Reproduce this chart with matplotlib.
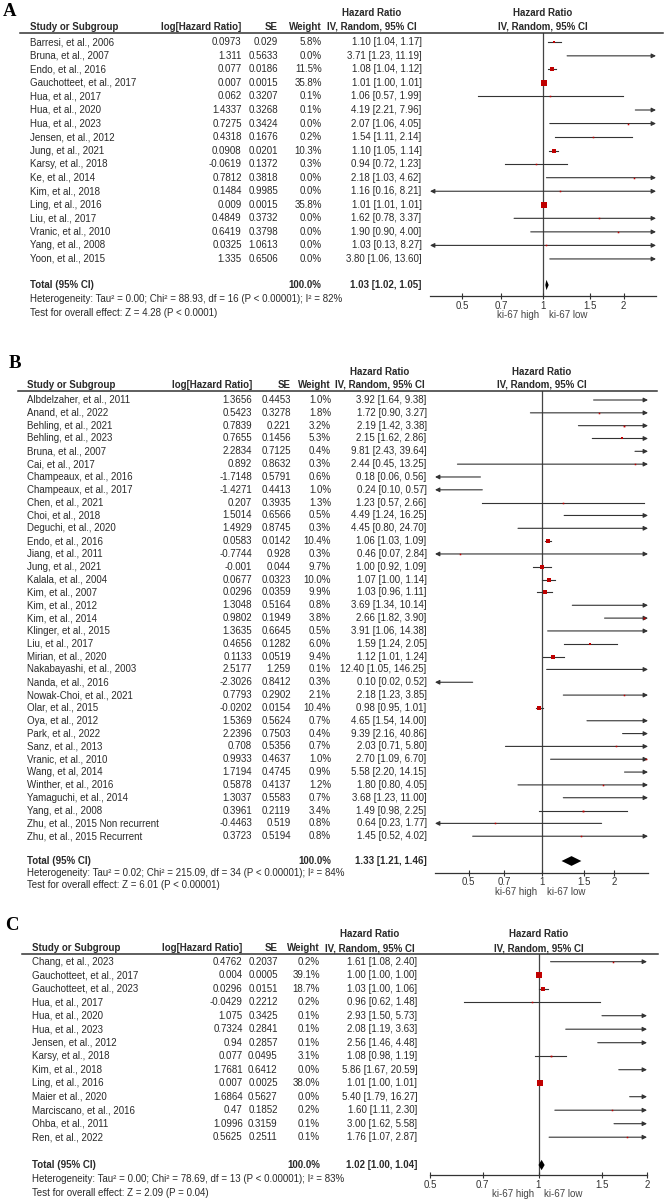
import matplotlib
matplotlib.use('Agg')
import matplotlib.pyplot as plt
import matplotlib.transforms as mtransforms
from matplotlib.ticker import NullLocator
import numpy as np

plt.rcParams['font.family'] = ['Liberation Sans', 'DejaVu Sans']

W, H = 667, 1203
FS = 7.0
TXT = '#2a2a2a'
RED = '#c00000'

# ---------------- panel A data ----------------
a_study = ['Barresi, et al., 2006', 'Bruna, et al., 2007', 'Endo, et al., 2016',
           'Gauchotteet, et al., 2017', 'Hua, et al., 2017', 'Hua, et al., 2020',
           'Hua, et al., 2023', 'Jensen, et al., 2012', 'Jung, et al., 2021',
           'Karsy, et al., 2018', 'Ke, et al., 2014', 'Kim, et al., 2018',
           'Ling, et al., 2016', 'Liu, et al., 2017', 'Vranic, et al., 2010',
           'Yang, et al., 2008', 'Yoon, et al., 2015']
a_loghr = [0.0973, 1.311, 0.077, 0.007, 0.062, 1.4337, 0.7275, 0.4318, 0.0908,
           -0.0619, 0.7812, 0.1484, 0.009, 0.4849, 0.6419, 0.0325, 1.335]
a_se = [0.029, 0.5633, 0.0186, 0.0015, 0.3207, 0.3268, 0.3424, 0.1676, 0.0201,
        0.1372, 0.3818, 0.9985, 0.0015, 0.3732, 0.3798, 1.0613, 0.6506]
a_weight = [5.8, 0.0, 11.5, 35.8, 0.1, 0.1, 0.0, 0.2, 10.3, 0.3, 0.0, 0.0, 35.8,
            0.0, 0.0, 0.0, 0.0]
a_hr = [1.10, 3.71, 1.08, 1.01, 1.06, 4.19, 2.07, 1.54, 1.10, 0.94, 2.18, 1.16,
        1.01, 1.62, 1.90, 1.03, 3.80]
a_lo = [1.04, 1.23, 1.04, 1.00, 0.57, 2.21, 1.06, 1.11, 1.05, 0.72, 1.03, 0.16,
        1.01, 0.78, 0.90, 0.13, 1.06]
a_hi = [1.17, 11.19, 1.12, 1.01, 1.99, 7.96, 4.05, 2.14, 1.14, 1.23, 4.62, 8.21,
        1.01, 3.37, 4.00, 8.27, 13.60]
a_total = [1.03, 1.02, 1.05]
a_het = 'Heterogeneity: Tau² = 0.00; Chi² = 88.93, df = 16 (P < 0.00001); I² = 82%'
a_test = 'Test for overall effect: Z = 4.28 (P < 0.0001)'

# ---------------- panel B data ----------------
b_study = ['Albdelzaher, et al., 2011', 'Anand, et al., 2022', 'Behling, et al., 2021',
           'Behling, et al., 2023', 'Bruna, et al., 2007', 'Cai, et al., 2017',
           'Champeaux, et al., 2016', 'Champeaux, et al., 2017', 'Chen, et al., 2021',
           'Choi, et al., 2018', 'Deguchi, et al., 2020', 'Endo, et al., 2016',
           'Jiang, et al., 2011', 'Jung, et al., 2021', 'Kalala, et al., 2004',
           'Kim, et al., 2007', 'Kim, et al., 2012', 'Kim, et al., 2014',
           'Klinger, et al., 2015', 'Liu, et al., 2017', 'Mirian, et al., 2020',
           'Nakabayashi, et al., 2003', 'Nanda, et al., 2016', 'Nowak-Choi, et al., 2021',
           'Olar, et al., 2015', 'Oya, et al., 2012', 'Park, et al., 2022',
           'Sanz, et al., 2013', 'Vranic, et al., 2010', 'Wang, et al, 2014',
           'Winther, et al., 2016', 'Yamaguchi, et al., 2014', 'Yang, et al., 2008',
           'Zhu, et al., 2015 Non recurrent', 'Zhu, et al., 2015 Recurrent']
b_loghr = [1.3656, 0.5423, 0.7839, 0.7655, 2.2834, 0.892, -1.7148, -1.4271, 0.207,
           1.5014, 1.4929, 0.0583, -0.7744, -0.001, 0.0677, 0.0296, 1.3048, 0.9802,
           1.3635, 0.4656, 0.1133, 2.5177, -2.3026, 0.7793, -0.0202, 1.5369, 2.2396,
           0.708, 0.9933, 1.7194, 0.5878, 1.3037, 0.3961, -0.4463, 0.3723]
b_se = [0.4453, 0.3278, 0.221, 0.1456, 0.7125, 0.8632, 0.5791, 0.4413, 0.3935,
        0.6566, 0.8745, 0.0142, 0.928, 0.044, 0.0323, 0.0359, 0.5164, 0.1949,
        0.6645, 0.1282, 0.0519, 1.259, 0.8412, 0.2902, 0.0154, 0.5624, 0.7503,
        0.5356, 0.4637, 0.4745, 0.4137, 0.5583, 0.2119, 0.519, 0.5194]
b_weight = [1.0, 1.8, 3.2, 5.3, 0.4, 0.3, 0.6, 1.0, 1.3, 0.5, 0.3, 10.4, 0.3, 9.7,
            10.0, 9.9, 0.8, 3.8, 0.5, 6.0, 9.4, 0.1, 0.3, 2.1, 10.4, 0.7, 0.4, 0.7,
            1.0, 0.9, 1.2, 0.7, 3.4, 0.8, 0.8]
b_hr = [3.92, 1.72, 2.19, 2.15, 9.81, 2.44, 0.18, 0.24, 1.23, 4.49, 4.45, 1.06, 0.46,
        1.00, 1.07, 1.03, 3.69, 2.66, 3.91, 1.59, 1.12, 12.40, 0.10, 2.18, 0.98, 4.65,
        9.39, 2.03, 2.70, 5.58, 1.80, 3.68, 1.49, 0.64, 1.45]
b_lo = [1.64, 0.90, 1.42, 1.62, 2.43, 0.45, 0.06, 0.10, 0.57, 1.24, 0.80, 1.03, 0.07,
        0.92, 1.00, 0.96, 1.34, 1.82, 1.06, 1.24, 1.01, 1.05, 0.02, 1.23, 0.95, 1.54,
        2.16, 0.71, 1.09, 2.20, 0.80, 1.23, 0.98, 0.23, 0.52]
b_hi = [9.38, 3.27, 3.38, 2.86, 39.64, 13.25, 0.56, 0.57, 2.66, 16.25, 24.70, 1.09,
        2.84, 1.09, 1.14, 1.11, 10.14, 3.90, 14.38, 2.05, 1.24, 146.25, 0.52, 3.85,
        1.01, 14.00, 40.86, 5.80, 6.70, 14.15, 4.05, 11.00, 2.25, 1.77, 4.02]
b_total = [1.33, 1.21, 1.46]
b_het = 'Heterogeneity: Tau² = 0.02; Chi² = 215.09, df = 34 (P < 0.00001); I² = 84%'
b_test = 'Test for overall effect: Z = 6.01 (P < 0.00001)'

# ---------------- panel C data ----------------
c_study = ['Chang, et al., 2023', 'Gauchotteet, et al., 2017', 'Gauchotteet, et al., 2023',
           'Hua, et al., 2017', 'Hua, et al., 2020', 'Hua, et al., 2023',
           'Jensen, et al., 2012', 'Karsy, et al., 2018', 'Kim, et al., 2018',
           'Ling, et al., 2016', 'Maier et al., 2020', 'Marciscano, et al., 2016',
           'Ohba, et al., 2011', 'Ren, et al., 2022']
c_loghr = [0.4762, 0.004, 0.0296, -0.0429, 1.075, 0.7324, 0.94, 0.077, 1.7681, 0.007,
           1.6864, 0.47, 1.0996, 0.5625]
c_se = [0.2037, 0.0005, 0.0151, 0.2212, 0.3425, 0.2841, 0.2857, 0.0495, 0.6412,
        0.0025, 0.5627, 0.1852, 0.3159, 0.2511]
c_weight = [0.2, 39.1, 18.7, 0.2, 0.1, 0.1, 0.1, 3.1, 0.0, 38.0, 0.0, 0.2, 0.1, 0.1]
c_hr = [1.61, 1.00, 1.03, 0.96, 2.93, 2.08, 2.56, 1.08, 5.86, 1.01, 5.40, 1.60, 3.00, 1.76]
c_lo = [1.08, 1.00, 1.00, 0.62, 1.50, 1.19, 1.46, 0.98, 1.67, 1.00, 1.79, 1.11, 1.62, 1.07]
c_hi = [2.40, 1.00, 1.06, 1.48, 5.73, 3.63, 4.48, 1.19, 20.59, 1.01, 16.27, 2.30, 5.58, 2.87]
c_total = [1.02, 1.00, 1.04]
c_het = 'Heterogeneity: Tau² = 0.00; Chi² = 78.69, df = 13 (P < 0.00001); I² = 83%'
c_test = 'Test for overall effect: Z = 2.09 (P = 0.04)'

tick_vals = [0.5, 0.7, 1, 1.5, 2]
tick_labels = ['0.5', '0.7', '1', '1.5', '2']

# pixel layout of each panel
geo_a = dict(letter='A', lx=10, ly=11, hdr1=13.3, hdr2=26.5, line=33, l0=20, l1=663,
             row0=42.3, dy=13.54, total=285, het=299.3, test=312.7, axis=296,
             x0=430, x1=656, xlim=(1 / 2.64, 2.64),
             study_x=30, log_r=241.7, se_r=278, w_r=321.7, ci_r=421.5, ci_c=372)
geo_b = dict(letter='B', lx=14.5, ly=363.3, hdr1=372.3, hdr2=385, line=391, l0=18, l1=657,
             row0=400, dy=12.83, total=861, het=873.3, test=885, axis=872.7,
             x0=435, x1=648, xlim=(1 / 2.75, 2.75),
             study_x=26.7, log_r=252, se_r=291, w_r=331, ci_r=426.7, ci_c=380)
geo_c = dict(letter='C', lx=11.7, ly=926, hdr1=934, hdr2=948.3, line=954, l0=22, l1=658,
             row0=961.7, dy=13.5, total=1165, het=1179.3, test=1192.7, axis=1175,
             x0=430, x1=647, xlim=(0.5, 2.0),
             study_x=32.3, log_r=242.7, se_r=277.7, w_r=320, ci_r=417.3, ci_c=369.5)


def px(x):
    return x / W


def draw_panel(fig, g, study, loghr, se, weight, hr, lo, hi, total, het, test):
    ax = fig.add_axes([px(g['x0']), 1 - g['axis'] / H,
                       px(g['x1'] - g['x0']), (g['axis'] - g['line']) / H])
    ax.set_xscale('log')
    xmin, xmax = g['xlim']
    ax.set_xlim(xmin, xmax)

    def row(y):
        return (y - g['row0']) / g['dy']

    ax.set_ylim(row(g['axis']), row(g['line']))
    fig_x = mtransforms.blended_transform_factory(fig.transFigure, ax.transData)
    ax_x = mtransforms.blended_transform_factory(ax.transAxes, ax.transData)

    # header
    ax.plot([px(g['l0']), px(g['l1'])], [row(g['line'])] * 2, transform=fig_x,
            clip_on=False, color='#333333', lw=1.1)
    y1, y2 = row(g['hdr1']), row(g['hdr2'])
    hb = dict(fontsize=FS, fontweight='bold', color=TXT, va='center')
    ax.text(px(g['study_x']), y2, 'Study or Subgroup', transform=fig_x, ha='left', **hb)
    ax.text(px(g['log_r']), y2, 'log[Hazard Ratio]', transform=fig_x, ha='right', **hb)
    ax.text(px(g['se_r']), y2, 'SE', transform=fig_x, ha='right', **hb)
    ax.text(px(g['w_r']), y2, 'Weight', transform=fig_x, ha='right', **hb)
    ax.text(px(g['ci_c']), y1, 'Hazard Ratio', transform=fig_x, ha='center', **hb)
    ax.text(px(g['ci_c']), y2, 'IV, Random, 95% CI', transform=fig_x, ha='center', **hb)
    ax.text(0.5, y1, 'Hazard Ratio', transform=ax_x, ha='center', **hb)
    ax.text(0.5, y2, 'IV, Random, 95% CI', transform=ax_x, ha='center', **hb)

    # study rows
    tb = dict(fontsize=FS, color=TXT, va='center', transform=fig_x)
    for i in range(len(study)):
        ax.text(px(g['study_x']), i, study[i], ha='left', **tb)
        ax.text(px(g['log_r']), i, str(loghr[i]), ha='right', **tb)
        ax.text(px(g['se_r']), i, str(se[i]), ha='right', **tb)
        ax.text(px(g['w_r']), i, f'{weight[i]:.1f}%', ha='right', **tb)
        ax.text(px(g['ci_r']), i, f'{hr[i]:.2f} [{lo[i]:.2f}, {hi[i]:.2f}]', ha='right', **tb)

        left_out, right_out = lo[i] < xmin, hi[i] > xmax
        a, b = max(lo[i], xmin), min(hi[i], xmax)
        if left_out or right_out:
            style = {(True, False): '<|-', (False, True): '-|>', (True, True): '<|-|>'}[(left_out, right_out)]
            ax.annotate('', xy=(b, i), xytext=(a, i),
                        arrowprops=dict(arrowstyle=style, color='#333333', lw=0.8,
                                        shrinkA=0, shrinkB=0, mutation_scale=6.5),
                        annotation_clip=False)
        else:
            ax.plot([a, b], [i, i], color='#333333', lw=0.8)
        ax.plot(hr[i], i, 's', ms=max(0.72 * np.sqrt(weight[i]), 1.1), color=RED, mew=0, zorder=4)

    # total
    yt = row(g['total'])
    ax.text(px(g['study_x']), yt, 'Total (95% CI)', ha='left', fontweight='bold', **tb)
    ax.text(px(g['w_r']), yt, '100.0%', ha='right', fontweight='bold', **tb)
    ax.text(px(g['ci_r']), yt, f'{total[0]:.2f} [{total[1]:.2f}, {total[2]:.2f}]',
            ha='right', fontweight='bold', **tb)
    h = 0.38
    ax.fill([total[1], total[0], total[2], total[0]], [yt, yt - h, yt, yt + h],
            color='black', lw=0, zorder=5)
    ax.text(px(g['study_x']), row(g['het']), het, ha='left', **tb)
    ax.text(px(g['study_x']), row(g['test']), test, ha='left', **tb)

    # axis
    ax.axvline(1, color='#444444', lw=0.9, zorder=1)
    for s in ['top', 'left', 'right']:
        ax.spines[s].set_visible(False)
    ax.spines['bottom'].set_color('#333333')
    ax.spines['bottom'].set_linewidth(0.9)
    ax.set_xticks(tick_vals)
    ax.set_xticklabels(tick_labels)
    ax.xaxis.set_minor_locator(NullLocator())
    ax.tick_params(axis='x', direction='inout', length=4.5, width=0.8, pad=1.0,
                   labelsize=FS, colors='#333333')
    ax.set_yticks([])
    ax.patch.set_alpha(0)
    ax.annotate('ki-67 high', xy=(1, 0), xycoords=('data', 'axes fraction'),
                xytext=(-3, -14), textcoords='offset points', ha='right', va='center',
                fontsize=FS, color='#444444', annotation_clip=False)
    ax.annotate('ki-67 low', xy=(1, 0), xycoords=('data', 'axes fraction'),
                xytext=(4, -14), textcoords='offset points', ha='left', va='center',
                fontsize=FS, color='#444444', annotation_clip=False)

    fig.text(px(g['lx']), 1 - g['ly'] / H, g['letter'], family='Liberation Serif',
             fontweight='bold', fontsize=13.5, ha='center', va='center', color='black')
    return ax


fig = plt.figure(figsize=(W / 100, H / 100), dpi=100)
fig.patch.set_facecolor('white')
draw_panel(fig, geo_a, a_study, a_loghr, a_se, a_weight, a_hr, a_lo, a_hi, a_total, a_het, a_test)
draw_panel(fig, geo_b, b_study, b_loghr, b_se, b_weight, b_hr, b_lo, b_hi, b_total, b_het, b_test)
draw_panel(fig, geo_c, c_study, c_loghr, c_se, c_weight, c_hr, c_lo, c_hi, c_total, c_het, c_test)
fig.savefig('out.png', dpi=100)
